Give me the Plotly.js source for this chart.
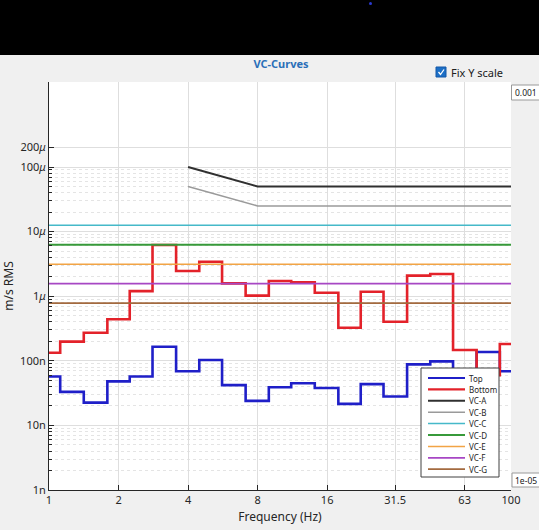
<!DOCTYPE html>
<html>
<head>
<meta charset="utf-8">
<script src="https://cdn.plot.ly/plotly-3.0.1.min.js"></script>
<style>html,body{margin:0;padding:0;background:#f0f0f0;}#chart{width:539px;height:530px;}</style>
</head>
<body>
<div id="chart"></div>
<script>
// ---- data ----
const bandHz = [1, 1.25, 1.6, 2, 2.5, 3.15, 4, 5, 6.3, 8, 10, 12.5, 16, 20, 25, 31.5, 40, 50, 63, 80, 100];
const topRMS = [57e-9, 33e-9, 22.5e-9, 48e-9, 57e-9, 165e-9, 69e-9, 103e-9, 42e-9, 24e-9, 39e-9, 45e-9, 38e-9, 21.5e-9, 43.5e-9, 28e-9, 88e-9, 98e-9, 55e-9, 137e-9, 69e-9];
const bottomRMS = [133e-9, 198e-9, 272e-9, 440e-9, 1.2e-6, 6.2e-6, 2.45e-6, 3.42e-6, 1.58e-6, 1.02e-6, 1.72e-6, 1.64e-6, 1.13e-6, 325e-9, 1.17e-6, 403e-9, 2.08e-6, 2.21e-6, 147e-9, 60e-9, 182e-9];
const vcNames = ["VC-A", "VC-B", "VC-C", "VC-D", "VC-E", "VC-F", "VC-G"];
const vcAbHz = [4, 8, 100];
const vcA = [100e-6, 50e-6, 50e-6];
const vcB = [50e-6, 25e-6, 25e-6];
const vcFlatHz = [1, 100];
const vcC = [12.5e-6, 12.5e-6];
const vcD = [6.25e-6, 6.25e-6];
const vcE = [3.12e-6, 3.12e-6];
const vcF = [1.56e-6, 1.56e-6];
const vcG = [0.78e-6, 0.78e-6];
const xTickVals = [1, 2, 4, 8, 16, 31.5, 63, 100];
const xTickText = ["1", "2", "4", "8", "16", "31.5", "63", "100"];
const yTickVals = [1e-9, 1e-8, 1e-7, 1e-6, 1e-5, 1e-4, 2e-4];
const yTickText = ["1n", "10n", "100n", "1<i>μ</i>", "10<i>μ</i>", "100<i>μ</i>", "200<i>μ</i>"];

// ---- styling ----
const colors = {
  Top: "#1f1fc8", Bottom: "#e3222a",
  "VC-A": "#303030", "VC-B": "#9a9a9a", "VC-C": "#45b9c9", "VC-D": "#379a3a",
  "VC-E": "#f2a445", "VC-F": "#a747c4", "VC-G": "#a36a3f"
};
const widths = { Top: 2.6, Bottom: 2.6, "VC-A": 2, "VC-B": 1.5, "VC-C": 1.5, "VC-D": 2, "VC-E": 1.5, "VC-F": 1.8, "VC-G": 1.8 };

const vcX = [vcAbHz, vcAbHz, vcFlatHz, vcFlatHz, vcFlatHz, vcFlatHz, vcFlatHz];
const vcY = [vcA, vcB, vcC, vcD, vcE, vcF, vcG];

const traces = [
  { x: bandHz, y: topRMS, name: "Top", mode: "lines", line: { shape: "hvh", color: colors.Top, width: widths.Top } },
  { x: bandHz, y: bottomRMS, name: "Bottom", mode: "lines", line: { shape: "hvh", color: colors.Bottom, width: widths.Bottom } }
];
vcNames.forEach((n, i) => traces.push({ x: vcX[i], y: vcY[i], name: n, mode: "lines", line: { color: colors[n], width: widths[n] } }));

// layout geometry (pixels)
const W = 539, H = 530, L = 49, R = 28, T = 82, B = 40;
const pw = W - L - R, ph = H - T - B;
const px = v => (v - L) / pw;
const py = v => (H - B - v) / ph;

// minor grid values
const minorVals = [];
for (let d = -9; d <= -5; d++) for (let k = 2; k <= 9; k++) minorVals.push(k * Math.pow(10, d));

const shapes = [
  // black band at the top
  { type: "rect", xref: "paper", yref: "paper", x0: px(0), x1: px(W), y0: py(55), y1: py(0), fillcolor: "#000", line: { width: 0 }, layer: "above" },
  { type: "circle", xref: "paper", yref: "paper", x0: px(369), x1: px(372), y0: py(5), y1: py(2), fillcolor: "#2a3ad0", line: { width: 0 }, layer: "above" },
  // checkbox
  { type: "rect", xref: "paper", yref: "paper", x0: px(436), x1: px(446), y0: py(77), y1: py(67), fillcolor: "#1c6fc6", line: { color: "#1559a8", width: 1 }, layer: "above" },
  { type: "path", xref: "paper", yref: "paper", path: `M ${px(438.5)} ${py(72)} L ${px(440.5)} ${py(74.5)} L ${px(444)} ${py(69.5)}`, line: { color: "#fff", width: 1.3 }, layer: "above" },
  // text boxes
  { type: "rect", xref: "paper", yref: "paper", x0: px(511.5), x1: px(545), y0: py(100), y1: py(85), fillcolor: "#fff", line: { color: "#9a9a9a", width: 1 }, layer: "above" },
  { type: "rect", xref: "paper", yref: "paper", x0: px(512), x1: px(545), y0: py(487), y1: py(473), fillcolor: "#fff", line: { color: "#9a9a9a", width: 1 }, layer: "above" },
  // legend box
  { type: "rect", xref: "paper", yref: "paper", x0: px(421), x1: px(499), y0: py(477), y1: py(368), fillcolor: "#fff", line: { color: "#404040", width: 1 }, layer: "above" }
];

const annotations = [
  { xref: "paper", yref: "paper", x: px(449), y: py(72), xanchor: "left", yanchor: "middle", text: "Fix Y scale", showarrow: false, font: { family: "Noto Sans, sans-serif", size: 11, color: "#202020" } },
  { xref: "paper", yref: "paper", x: px(513), y: py(92.5), xanchor: "left", yanchor: "middle", text: "0.001", showarrow: false, font: { family: "Noto Sans, sans-serif", size: 8.5, color: "#202020" } },
  { xref: "paper", yref: "paper", x: px(513), y: py(480), xanchor: "left", yanchor: "middle", text: "1e-05", showarrow: false, font: { family: "Noto Sans, sans-serif", size: 8.5, color: "#202020" } }
];

// custom legend drawn inside the box
traces.forEach((t, i) => {
  const yy = 378 + i * 11.4;
  shapes.push({ type: "line", xref: "paper", yref: "paper", x0: px(428), x1: px(465), y0: py(yy), y1: py(yy), line: { color: t.line.color, width: Math.min(t.line.width, 2.2) }, layer: "above" });
  annotations.push({ xref: "paper", yref: "paper", x: px(467), y: py(yy), xanchor: "left", yanchor: "middle", text: t.name, showarrow: false, font: { family: "Noto Sans, sans-serif", size: 8, color: "#262626" } });
});

const layout = {
  width: W, height: H,
  margin: { l: L, r: R, t: T, b: B, pad: 0 },
  paper_bgcolor: "#f0f0f0",
  plot_bgcolor: "#ffffff",
  showlegend: false,
  title: { text: "<b>VC-Curves</b>", x: 281 / W, xanchor: "center", y: 1 - 64 / H, yanchor: "middle", font: { family: "Noto Sans, sans-serif", size: 11, color: "#2a6fb8" } },
  xaxis: {
    type: "log", range: [0, 2], tickvals: xTickVals, ticktext: xTickText,
    ticks: "inside", ticklen: 5, tickcolor: "#262626", showline: true, linecolor: "#262626", linewidth: 1,
    showgrid: true, gridcolor: "#dedede", gridwidth: 1, zeroline: false,
    tickfont: { family: "Noto Sans, sans-serif", size: 11, color: "#262626" },
    title: { text: "Frequency (Hz)", standoff: 6, font: { family: "Noto Sans, sans-serif", size: 12, color: "#262626" } },
    automargin: false
  },
  yaxis: {
    type: "log", range: [-9, -9 + ph / 64.6], tickvals: yTickVals, ticktext: yTickText,
    ticks: "inside", ticklen: 5, tickcolor: "#262626", showline: true, linecolor: "#262626", linewidth: 1,
    showgrid: true, gridcolor: "#dedede", gridwidth: 1, zeroline: false,
    minor: { tickvals: minorVals, ticks: "inside", ticklen: 3, tickcolor: "#262626", showgrid: true, gridcolor: "#e4e4e4", griddash: "dot", gridwidth: 1 },
    tickfont: { family: "Noto Sans, sans-serif", size: 11, color: "#262626" },
    title: { text: "m/s RMS", standoff: 8, font: { family: "Noto Sans, sans-serif", size: 12, color: "#262626" } },
    automargin: false
  },
  shapes: shapes,
  annotations: annotations
};

Plotly.newPlot("chart", traces, layout, { displayModeBar: false, staticPlot: true });
</script>
</body>
</html>
